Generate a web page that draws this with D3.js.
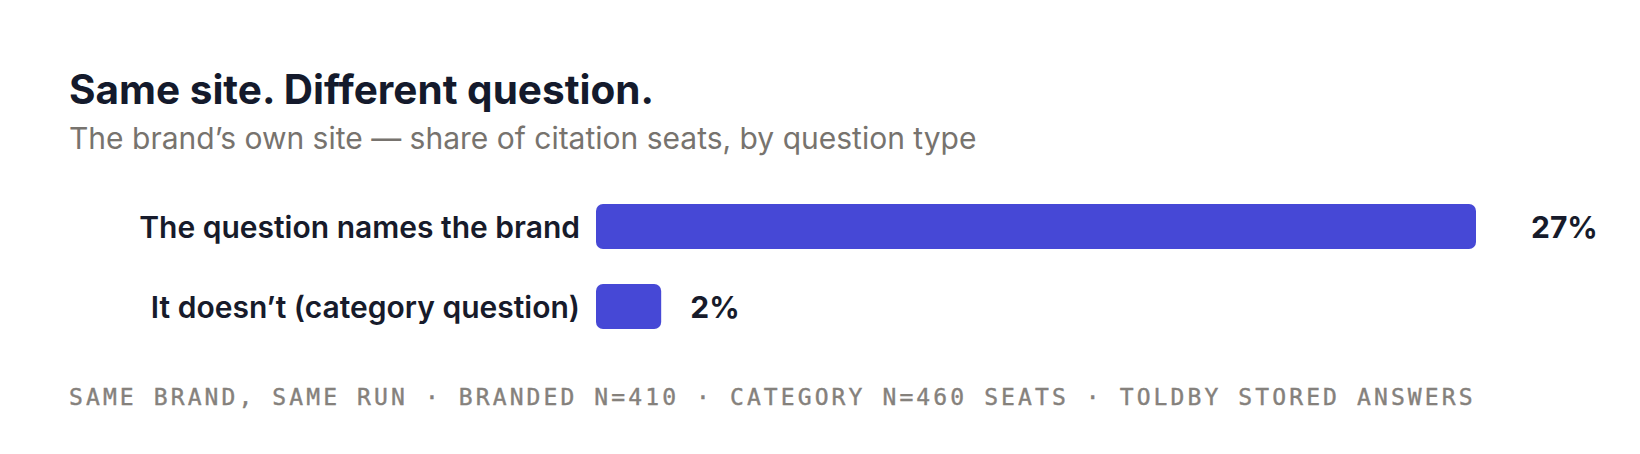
<!DOCTYPE html>
<html>
<head>
<meta charset="utf-8">
<script src="https://cdn.jsdelivr.net/npm/d3@7"></script>
<style>
  html, body { margin: 0; padding: 0; background: #ffffff; }
  svg { display: block; }
</style>
</head>
<body>
<svg id="chart"></svg>
<script>
// chart data
const categories = ["The question names the brand", "It doesn\u2019t (category question)"];
const shares = [27, 2];
const valueLabels = ["27%", "2%"];

const titleText = "Same site. Different question.";
const subtitleText = "The brand\u2019s own site \u2014 share of citation seats, by question type";
const footerText = "SAME BRAND, SAME RUN \u00b7 BRANDED N=410 \u00b7 CATEGORY N=460 SEATS \u00b7 TOLDBY STORED ANSWERS";

const width = 1640;
const height = 454;
const left = 69;
const barLeft = 596;
const barRight = 1476;
const barHeight = 45;

const svg = d3.select("#chart")
  .attr("width", width)
  .attr("height", height)
  .attr("viewBox", `0 0 ${width} ${height}`);

// scales
const x = d3.scaleLinear()
  .domain([0, d3.max(shares)])
  .range([barLeft, barRight]);

// value labels sit in their own column, a little past the bar ends
const xLabel = d3.scaleLinear()
  .domain([0, d3.max(shares)])
  .range([barLeft + 27, 1531]);

const y = d3.scalePoint()
  .domain(categories)
  .range([226.5, 306.5]);

// title + subtitle
svg.append("text")
  .attr("x", left)
  .attr("y", 104)
  .attr("font-family", "Inter, 'Noto Sans', sans-serif")
  .attr("font-weight", 700)
  .attr("font-size", 40.5)
  .attr("fill", "#141a2c")
  .text(titleText);

svg.append("text")
  .attr("x", left)
  .attr("y", 149)
  .attr("font-family", "Inter, 'Noto Sans', sans-serif")
  .attr("font-weight", 400)
  .attr("font-size", 30)
  .attr("fill", "#77736e")
  .text(subtitleText);

const rows = svg.append("g")
  .selectAll("g")
  .data(categories)
  .enter()
  .append("g");

// category labels
rows.append("text")
  .attr("x", barLeft - 16)
  .attr("y", (d) => y(d))
  .attr("dy", "0.38em")
  .attr("text-anchor", "end")
  .attr("font-family", "Inter, 'Noto Sans', sans-serif")
  .attr("font-weight", 600)
  .attr("font-size", 30)
  .attr("fill", "#171b2b")
  .text((d) => d);

// bars
rows.append("rect")
  .attr("x", x(0))
  .attr("y", (d) => y(d) - barHeight / 2)
  .attr("width", (d, i) => x(shares[i]) - x(0))
  .attr("height", barHeight)
  .attr("rx", 7)
  .attr("fill", "#4648d6");

// value labels
rows.append("text")
  .attr("x", (d, i) => xLabel(shares[i]))
  .attr("y", (d) => y(d))
  .attr("dy", "0.38em")
  .attr("font-family", "Inter, 'Noto Sans', sans-serif")
  .attr("font-weight", 700)
  .attr("font-size", 30)
  .attr("fill", "#171b2b")
  .text((d, i) => valueLabels[i]);

// footer note
svg.append("text")
  .attr("x", left)
  .attr("y", 405)
  .attr("font-family", "'DejaVu Sans Mono', 'Liberation Mono', monospace")
  .attr("font-size", 23)
  .attr("letter-spacing", "3.1px")
  .attr("fill", "#85817c")
  .attr("stroke", "#85817c")
  .attr("stroke-width", 0.4)
  .text(footerText);
</script>
</body>
</html>
